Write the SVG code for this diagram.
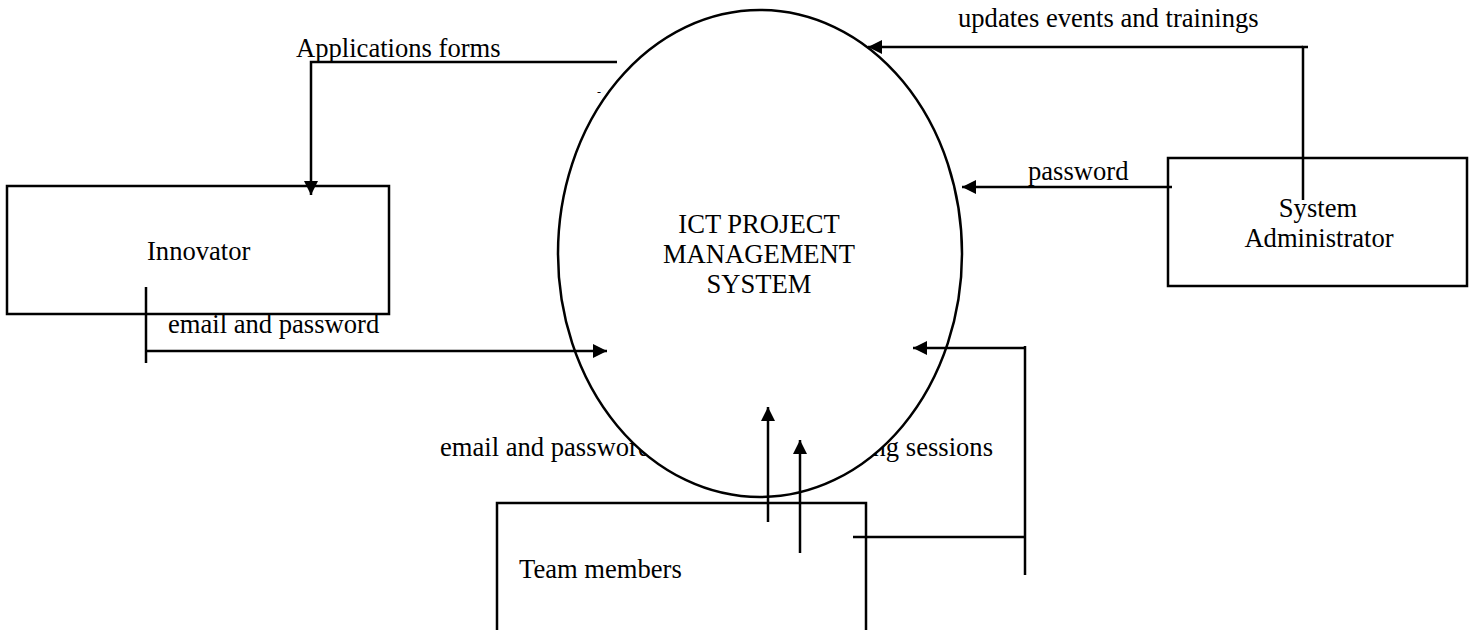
<svg xmlns="http://www.w3.org/2000/svg" width="1471" height="630" viewBox="0 0 1471 630">
  <style>
    text { font-family: "Liberation Serif", "Times New Roman", serif; font-size: 26.6px; fill: #000; }
    .box { fill: #fff; stroke: #000; stroke-width: 2.5; }
    .flow { fill: none; stroke: #000; stroke-width: 2.5; }
    .mid { text-anchor: middle; }
  </style>
  <defs>
    <marker id="arrow" viewBox="0 0 14 14" refX="14" refY="7" markerWidth="14" markerHeight="14" markerUnits="userSpaceOnUse" orient="auto">
      <path d="M0,0 L14,7 L0,14 Z" fill="#000"/>
    </marker>
  </defs>
  <rect width="1471" height="630" fill="#fff"/>

  <!-- flow labels that sit partly behind the process bubble -->
  <g id="hidden-labels">
    <text x="440" y="456">email and password</text>
    <text x="993" y="456" text-anchor="end">training sessions</text>
  </g>

  <!-- central process -->
  <g id="process">
    <ellipse cx="760" cy="253.5" rx="202" ry="243.5" fill="#fff" stroke="#000" stroke-width="2.5"/>
    <text class="mid" x="759" y="233">ICT PROJECT</text>
    <text class="mid" x="759" y="263">MANAGEMENT</text>
    <text class="mid" x="759" y="293">SYSTEM</text>
  </g>

  <!-- external entities -->
  <g id="innovator">
    <rect class="box" x="7" y="186" width="382" height="128"/>
    <text x="147" y="260">Innovator</text>
  </g>
  <g id="system-administrator">
    <rect class="box" x="1168" y="158" width="299" height="128"/>
    <text class="mid" x="1318" y="217">System</text>
    <text class="mid" x="1319" y="247">Administrator</text>
  </g>
  <g id="team-members">
    <rect class="box" x="497" y="503" width="369" height="160"/>
    <text x="519" y="578">Team members</text>
  </g>

  <!-- data flows -->
  <g id="connectors">
    <polyline class="flow" points="617,62 311,62 311,195" marker-end="url(#arrow)"/>
    <polyline class="flow" points="1303,200 1303,47 1308,47"/>
    <line class="flow" x1="1303" y1="47" x2="868" y2="47" marker-end="url(#arrow)"/>
    <line class="flow" x1="1172" y1="187" x2="962" y2="187" marker-end="url(#arrow)"/>
    <line class="flow" x1="146" y1="287" x2="146" y2="363"/>
    <line class="flow" x1="146" y1="351" x2="607" y2="351" marker-end="url(#arrow)"/>
    <line class="flow" x1="768" y1="522" x2="768" y2="407" marker-end="url(#arrow)"/>
    <line class="flow" x1="800" y1="553" x2="800" y2="440" marker-end="url(#arrow)"/>
    <polyline class="flow" points="853,537 1025,537"/>
    <line class="flow" x1="1025" y1="575" x2="1025" y2="346"/>
    <line class="flow" x1="1025" y1="348" x2="913" y2="348" marker-end="url(#arrow)"/>
  </g>

  <!-- flow labels -->
  <g id="labels">
    <text x="296" y="57">Applications forms</text>
    <text x="958" y="27">updates events and trainings</text>
    <text x="1028" y="180">password</text>
    <text x="168" y="333">email and password</text>
    <text x="597" y="96" style="font-size:12px">-</text>
  </g>
</svg>
